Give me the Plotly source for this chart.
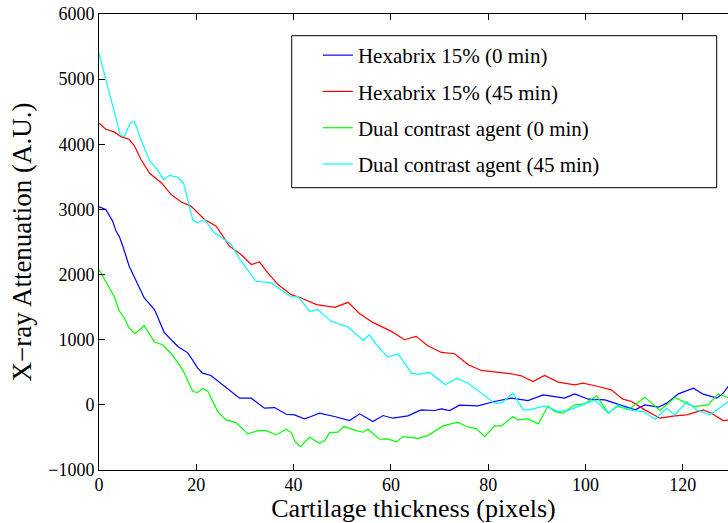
import plotly.graph_objects as go

# ---- data ----
hex0_x = [0, 1.4, 2.8, 3.5, 4.2, 4.9, 6.2, 7.6, 9.3, 11.4, 13.4, 16.2, 18.3, 20.3, 21.3, 23, 25.8, 28.9, 31.3, 34,
          36.1, 38.5, 40.2, 42.2, 43.6, 45.3, 48.4, 51.5, 53.6, 56.3, 58.4, 60.4, 63.5, 66.2, 69, 70.4, 72.1, 74.1,
          77.9, 81.3, 84.8, 88.2, 91.3, 94, 95.7, 97.8, 100.6, 104, 106.7, 110.2, 112.2, 115, 116.7, 119.1, 122.2,
          124.2, 127, 128.3, 129.6]
hex0_y = [3041, 3000, 2821, 2667, 2579, 2436, 2128, 1897, 1641, 1462, 1113, 897, 795, 564, 487, 451, 282, 103, 103, -51,
          -41, -144, -154, -215, -179, -128, -179, -241, -138, -256, -164, -205, -169, -77, -87, -62, -87, -5,
          -15, 51, 103, 66, 154, 128, 103, 169, 87, 77, 15, -77, 0, -36, 26, 169, 256,
          164, 103, 180, 308]

hex45_x = [0, 1.4, 3.1, 4.5, 6.2, 7.3, 8.6, 10.4, 12.8, 14.8, 16.9, 18.9, 21.7, 24.1, 26.8, 29.2, 31.3, 33, 34.7,
           36.8, 39.5, 41.6, 44.7, 48.5, 51.2, 53.6, 56.3, 60.1, 62.8, 65.2, 67.6, 70.4, 73.1, 75.9, 78.6, 82.7,
           84.8, 86.8, 89.2, 91.6, 94.4, 97.8, 99.5, 102.6, 105.3, 107.7, 109.5, 112.2, 115.3, 118.4, 120.8, 124.2,
           125.9, 128.3, 129.6]
hex45_y = [4323, 4231, 4190, 4118, 4077, 3974, 3769, 3554, 3410, 3231, 3113, 3051, 2846, 2744, 2436, 2308, 2154, 2195, 2026,
           1846, 1692, 1641, 1538, 1497, 1574, 1400, 1266, 1128, 1000, 1051, 908, 805, 785, 615, 528, 497,
           477, 446, 359, 451, 349, 308, 333, 282, 231, 87, 51, -77, -205, -169, -154, -77,
           -128, -241, -231]

dual0_x = [0, 1.8, 3.1, 4.2, 5.2, 6.2, 7.4, 9.3, 11.4, 13.1, 15.2, 17.2, 19.3, 20.3, 21.3, 22.4, 24.4, 26.1, 28.2,
           30.6, 32.7, 34.4, 36.4, 38.5, 39.5, 40.3, 41.4, 43.3, 45.3, 46.4, 47.4, 49.1, 50.3, 52.9, 54.3, 55.3,
           57.7, 59.4, 61.1, 62.5, 65.6, 67.6, 70.7, 73.8, 75.5, 77.6, 79.3, 81.3, 82.7, 85.1, 86.1, 88.2, 90.3,
           92.3, 93.7, 95.4, 97.8, 99.8, 102.3, 104.7, 106.7, 108.8, 110.5, 112.2, 115.3, 118.4, 122.2, 125.2,
           127.3, 129.6]
dual0_y = [2077, 1846, 1667, 1436, 1333, 1180, 1092, 1215, 964, 923, 754, 538, 205, 190, 251, 205, -103, -231, -272,
           -446, -395, -395, -462, -374, -426, -564, -641, -497, -590, -549, -426, -420, -333, -395, -420, -374,
           -528, -523, -569, -487, -513, -472, -323, -267, -333, -369, -487, -323, -323, -179, -231, -215, -292,
           -15, -103, -128, 0, 15, 138, -128, -15, -77, 15, 118, -87, 113, -26, 0,
           169, 103]

dual45_x = [0, 4.4, 5.2, 6.4, 7.3, 8.6, 10.4, 11.7, 13.3, 14.5, 16.2, 17.4, 19.3, 20.3, 21.7, 23.7, 25.8, 27.2,
            29.2, 32.3, 35.4, 37.4, 39.5, 40.9, 43.3, 45, 47.7, 51.2, 54.3, 55.6, 57, 59.4, 61.5, 64.2, 65.6, 68,
            71.2, 73.5, 75.9, 78.6, 81.3, 82.7, 85.1, 87.2, 88.5, 91.6, 94.4, 96.8, 99.5, 101.9, 104.7, 106.7,
            109.1, 111.9, 114.3, 116.7, 118.4, 120.8, 122.8, 125.6, 128, 129.6]
dual45_y = [5400, 4138, 4118, 4323, 4354, 4077, 3749, 3641, 3462, 3523, 3492, 3400, 2836, 2795, 2846, 2641, 2538, 2462,
            2205, 1897, 1872, 1769, 1656, 1666, 1435, 1462, 1282, 1195, 990, 1077, 923, 733, 785, 487, 467, 497,
            308, 410, 333, 180, 26, 26, 180, -77, -77, -15, -103, -77, 0, 77, -128, 0,
            -77, -103, -221, -51, -154, 51, -77, -154, -26, 66]

series_names = ["Hexabrix 15% (0 min)", "Hexabrix 15% (45 min)",
                "Dual contrast agent (0 min)", "Dual contrast agent (45 min)"]
series_colors = ["#0000ff", "#ff0000", "#00ff00", "#00ffff"]
series_x = [hex0_x, hex45_x, dual0_x, dual45_x]
series_y = [hex0_y, hex45_y, dual0_y, dual45_y]

x_ticks = [0, 20, 40, 60, 80, 100, 120]
y_ticks = [-1000, 0, 1000, 2000, 3000, 4000, 5000, 6000]

FONT = "Liberation Serif"

fig = go.Figure()
for i, (nm, col, xs, ys) in enumerate(zip(series_names, series_colors, series_x, series_y)):
    fig.add_trace(go.Scatter(x=xs, y=ys, mode="lines", name=nm, legendgroup=f"g{i}",
                             line=dict(color=col, width=1.2)))

fig.update_layout(
    width=728, height=523,
    margin=dict(l=99, r=0, t=14, b=53),
    paper_bgcolor="white", plot_bgcolor="white",
    font=dict(family=FONT, size=18, color="black"),
    showlegend=True,
    legend=dict(x=0.348, y=0.954, xanchor="left", yanchor="top",
                bgcolor="rgba(0,0,0,0)", borderwidth=0,
                font=dict(family=FONT, size=21, color="black"),
                tracegroupgap=6, traceorder="grouped"),
    xaxis=dict(range=[0, 129.3], tickvals=x_ticks, ticks="inside", ticklen=6, tickcolor="black",
               showline=True, linecolor="black", linewidth=1, mirror="ticks", showgrid=False, zeroline=False,
               tickfont=dict(family=FONT, size=18), ticklabelstandoff=-2,
               title=dict(text="Cartilage thickness (pixels)", font=dict(family=FONT, size=26), standoff=3)),
    yaxis=dict(range=[-1000, 6000], tickvals=y_ticks, ticks="inside", ticklen=6, tickcolor="black",
               showline=True, linecolor="black", linewidth=1, mirror=False, showgrid=False, zeroline=False,
               tickfont=dict(family=FONT, size=18),
               title=dict(text="X\u2212ray Attenuation (A.U.)", font=dict(family=FONT, size=27), standoff=8)),
    shapes=[dict(type="rect", xref="paper", yref="paper",
                 x0=(291.7 - 99) / 629, x1=(716.7 - 99) / 629,
                 y0=(470 - 187.7) / 456, y1=(470 - 35.7) / 456,
                 line=dict(color="black", width=1), fillcolor="rgba(0,0,0,0)", layer="above")],
)

fig.write_html("out.html")
